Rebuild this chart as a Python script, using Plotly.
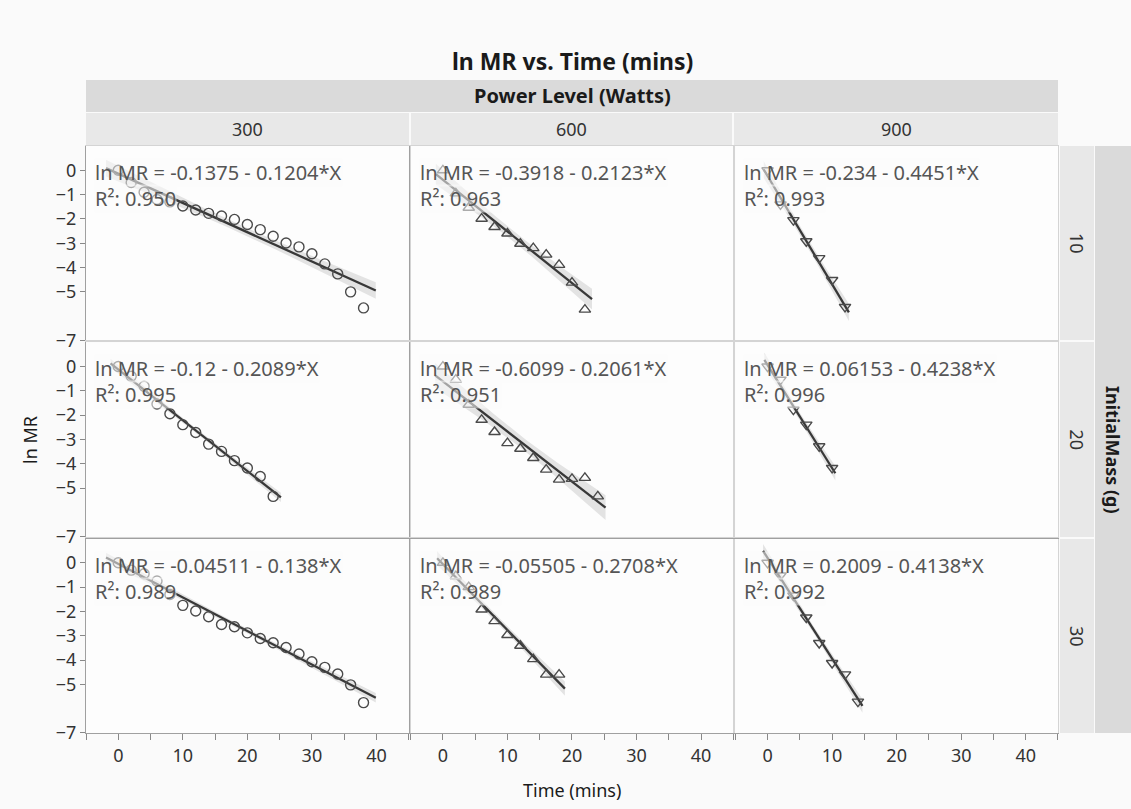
import numpy as np
import plotly.graph_objects as go
from plotly.subplots import make_subplots

# ---------------- data ----------------
power_levels = ["300", "600", "900"]          # columns
initial_masses = ["10", "20", "30"]           # rows

# Time (mins) and ln MR per panel
time_300_10 = [0, 2, 4, 6, 8, 10, 12, 14, 16, 18, 20, 22, 24, 26, 28, 30, 32, 34, 36, 38]
lnmr_300_10 = [0, -0.50, -0.90, -1.20, -1.30, -1.47, -1.63, -1.77, -1.88, -2.02, -2.23, -2.44,
               -2.71, -2.99, -3.15, -3.43, -3.85, -4.26, -5.00, -5.66]
time_600_10 = [0, 2, 4, 6, 8, 10, 12, 14, 16, 18, 20, 22]
lnmr_600_10 = [0, -0.95, -1.54, -1.99, -2.33, -2.60, -3.02, -3.20, -3.47, -3.89, -4.62, -5.73]
time_900_10 = [0, 2, 4, 6, 8, 10, 12]
lnmr_900_10 = [0, -1.40, -2.05, -2.92, -3.61, -4.51, -5.62]

time_300_20 = [0, 2, 4, 6, 8, 10, 12, 14, 16, 18, 20, 22, 24]
lnmr_300_20 = [0, -0.40, -0.81, -1.54, -1.94, -2.39, -2.71, -3.19, -3.49, -3.87, -4.17, -4.52, -5.34]
time_600_20 = [0, 2, 4, 6, 8, 10, 12, 14, 16, 18, 20, 22, 24]
lnmr_600_20 = [0, -0.54, -1.57, -2.19, -2.69, -3.15, -3.38, -3.76, -4.24, -4.65, -4.62, -4.58, -5.34]
time_900_20 = [0, 2, 4, 6, 8, 10]
lnmr_900_20 = [0, -0.54, -1.77, -2.39, -3.28, -4.17]

time_300_30 = [0, 2, 4, 6, 8, 10, 12, 14, 16, 18, 20, 22, 24, 26, 28, 30, 32, 34, 36, 38]
lnmr_300_30 = [0, -0.30, -0.45, -0.75, -1.30, -1.75, -1.98, -2.22, -2.54, -2.63, -2.88, -3.11,
               -3.29, -3.48, -3.75, -4.07, -4.30, -4.57, -5.02, -5.75]
time_600_30 = [0, 2, 4, 6, 8, 10, 12, 14, 16, 18]
lnmr_600_30 = [0, -0.55, -1.00, -1.92, -2.40, -2.97, -3.41, -3.96, -4.60, -4.60]
time_900_30 = [0, 2, 4, 6, 8, 10, 12, 14]
lnmr_900_30 = [0, -0.52, -1.35, -2.25, -3.30, -4.12, -4.59, -5.71]

times = [[time_300_10, time_600_10, time_900_10],
         [time_300_20, time_600_20, time_900_20],
         [time_300_30, time_600_30, time_900_30]]
lnmrs = [[lnmr_300_10, lnmr_600_10, lnmr_900_10],
         [lnmr_300_20, lnmr_600_20, lnmr_900_20],
         [lnmr_300_30, lnmr_600_30, lnmr_900_30]]

# fitted line coefficients (as printed)
intercepts = [[-0.1375, -0.3918, -0.234],
              [-0.12, -0.6099, 0.06153],
              [-0.04511, -0.05505, 0.2009]]
slopes = [[-0.1204, -0.2123, -0.4451],
          [-0.2089, -0.2061, -0.4238],
          [-0.138, -0.2708, -0.4138]]
eq_labels = [["ln MR = -0.1375 - 0.1204*X", "ln MR = -0.3918 - 0.2123*X", "ln MR = -0.234 - 0.4451*X"],
             ["ln MR = -0.12 - 0.2089*X", "ln MR = -0.6099 - 0.2061*X", "ln MR = 0.06153 - 0.4238*X"],
             ["ln MR = -0.04511 - 0.138*X", "ln MR = -0.05505 - 0.2708*X", "ln MR = 0.2009 - 0.4138*X"]]
r2_labels = [["0.950", "0.963", "0.993"],
             ["0.995", "0.951", "0.996"],
             ["0.989", "0.989", "0.992"]]

x_tick_vals = [0, 10, 20, 30, 40]
y_tick_vals = [0, -1, -2, -3, -4, -5, -7]

# ---------------- style ----------------
FONT = "Noto Sans"
symbols = ["circle-open", "triangle-up-open", "triangle-down-open"]
W, H = 1131, 809
L, R, T, B = 86, 73, 146, 76
PW, PH = W - L - R, H - T - B


def px_x(p):
    return (p - L) / PW


def px_y(p):
    return (H - B - p) / PH


fig = make_subplots(rows=3, cols=3, horizontal_spacing=0.002, vertical_spacing=0.003)

for r in range(3):
    for c in range(3):
        x = np.array(times[r][c], dtype=float)
        y = np.array(lnmrs[r][c], dtype=float)
        b0, b1 = intercepts[r][c], slopes[r][c]
        span = x.max() - x.min()
        xs = np.linspace(x.min() - 0.05 * span, x.max() + 0.05 * span, 60)
        fit = b0 + b1 * xs
        resid = y - (b0 + b1 * x)
        n = len(x)
        mse = np.sum(resid ** 2) / (n - 2)
        sxx = np.sum((x - x.mean()) ** 2)
        tval = 1.96 + 2.4 / (n - 2)
        half = tval * np.sqrt(mse * (1.0 / n + (xs - x.mean()) ** 2 / sxx))
        fig.add_trace(go.Scatter(x=np.concatenate([xs, xs[::-1]]),
                                 y=np.concatenate([fit + half, (fit - half)[::-1]]),
                                 fill="toself", fillcolor="rgba(0,0,0,0.10)",
                                 line=dict(width=0), mode="lines", hoverinfo="skip",
                                 showlegend=False), row=r + 1, col=c + 1)
        fig.add_trace(go.Scatter(x=xs, y=fit, mode="lines",
                                 line=dict(color="#383838", width=2.3),
                                 showlegend=False), row=r + 1, col=c + 1)
        fig.add_trace(go.Scatter(x=x, y=y, mode="markers",
                                 marker=dict(symbol=symbols[c], size=10, color="#4a4a4a",
                                             line=dict(color="#4a4a4a", width=1.4)),
                                 showlegend=False), row=r + 1, col=c + 1)

        idx = r * 3 + c + 1
        suffix = "" if idx == 1 else str(idx)
        fig.add_annotation(xref=f"x{suffix} domain", yref=f"y{suffix} domain", x=0, y=1,
                           xanchor="left", yanchor="top", xshift=8, yshift=-12,
                           text=eq_labels[r][c], showarrow=False, align="left",
                           bgcolor="rgba(252,252,252,0.55)", borderpad=0,
                           font=dict(family=FONT, size=20, color="#555555"))
        fig.add_annotation(xref=f"x{suffix} domain", yref=f"y{suffix} domain", x=0, y=1,
                           xanchor="left", yanchor="top", xshift=8, yshift=-38,
                           text="R²: " + r2_labels[r][c], showarrow=False, align="left",
                           bgcolor="rgba(252,252,252,0.55)", borderpad=0,
                           font=dict(family=FONT, size=20, color="#555555"))

fig.update_xaxes(range=[-5, 45], tickvals=x_tick_vals, showgrid=False, zeroline=False,
                 showline=True, mirror=True, linecolor="#d4d4d4", linewidth=1,
                 ticks="", showticklabels=False)
fig.update_yaxes(range=[-7, 1], tickvals=y_tick_vals, showgrid=False, zeroline=False,
                 showline=True, mirror=True, linecolor="#d4d4d4", linewidth=1,
                 ticks="", showticklabels=False)
for c in range(1, 4):
    fig.update_xaxes(row=3, col=c, ticks="outside", ticklen=6, tickcolor="#888888",
                     showticklabels=True, linecolor="#a0a0a0",
                     minor=dict(dtick=5, tick0=0, ticks="outside", ticklen=6, tickcolor="#888888"),
                     tickfont=dict(family=FONT, size=18, color="#333333"))
for r in range(1, 4):
    fig.update_yaxes(row=r, col=1, ticks="outside", ticklen=5, tickcolor="#888888",
                     showticklabels=True, linecolor="#a0a0a0",
                     tickfont=dict(family=FONT, size=18, color="#333333"))

shapes = []
shapes.append(dict(type="rect", xref="paper", yref="paper", x0=px_x(86), x1=px_x(1058),
                   y0=px_y(112), y1=px_y(80), fillcolor="#dadada", line=dict(width=0), layer="below"))
col_bounds = [(86, 409), (411, 732), (734, 1058)]
for (a, b) in col_bounds:
    shapes.append(dict(type="rect", xref="paper", yref="paper", x0=px_x(a), x1=px_x(b),
                       y0=px_y(145), y1=px_y(113), fillcolor="#e8e8e8", line=dict(width=0), layer="below"))
row_bounds = [(146, 340), (342, 537), (539, 733)]
for (a, b) in row_bounds:
    shapes.append(dict(type="rect", xref="paper", yref="paper", x0=px_x(1060), x1=px_x(1094),
                       y0=px_y(b), y1=px_y(a), fillcolor="#e8e8e8", line=dict(width=0), layer="below"))
shapes.append(dict(type="rect", xref="paper", yref="paper", x0=px_x(1095), x1=px_x(1131),
                   y0=px_y(733), y1=px_y(146), fillcolor="#dadada", line=dict(width=0), layer="below"))
fig.update_layout(shapes=shapes)


def label(xp, yp, text, size, color="#1a1a1a", angle=0):
    fig.add_annotation(xref="paper", yref="paper", x=px_x(xp), y=px_y(yp), text=text,
                       xanchor="center", yanchor="middle", textangle=angle, showarrow=False,
                       font=dict(family=FONT, size=size, color=color))


label(572, 61, "<b>ln MR vs. Time (mins)</b>", 23)
label(572, 96, "<b>Power Level (Watts)</b>", 20)
for (a, b), lab in zip(col_bounds, power_levels):
    label((a + b) / 2, 129, lab, 18, "#333333")
for (a, b), lab in zip(row_bounds, initial_masses):
    label(1077, (a + b) / 2, lab, 18, "#333333", 90)
label(1113, 450, "<b>InitialMass (g)</b>", 18, "#1a1a1a", 90)
label(30, 440, "ln MR", 18, "#1a1a1a", -90)
label(572, 790, "Time (mins)", 18)

fig.update_layout(width=W, height=H, margin=dict(l=L, r=R, t=T, b=B),
                  paper_bgcolor="#fafafa", plot_bgcolor="#fdfdfd", showlegend=False,
                  font=dict(family=FONT, size=16, color="#333333"))

fig.write_html("out.html", config={"displayModeBar": False},
               post_script="document.body.style.margin='0';")
